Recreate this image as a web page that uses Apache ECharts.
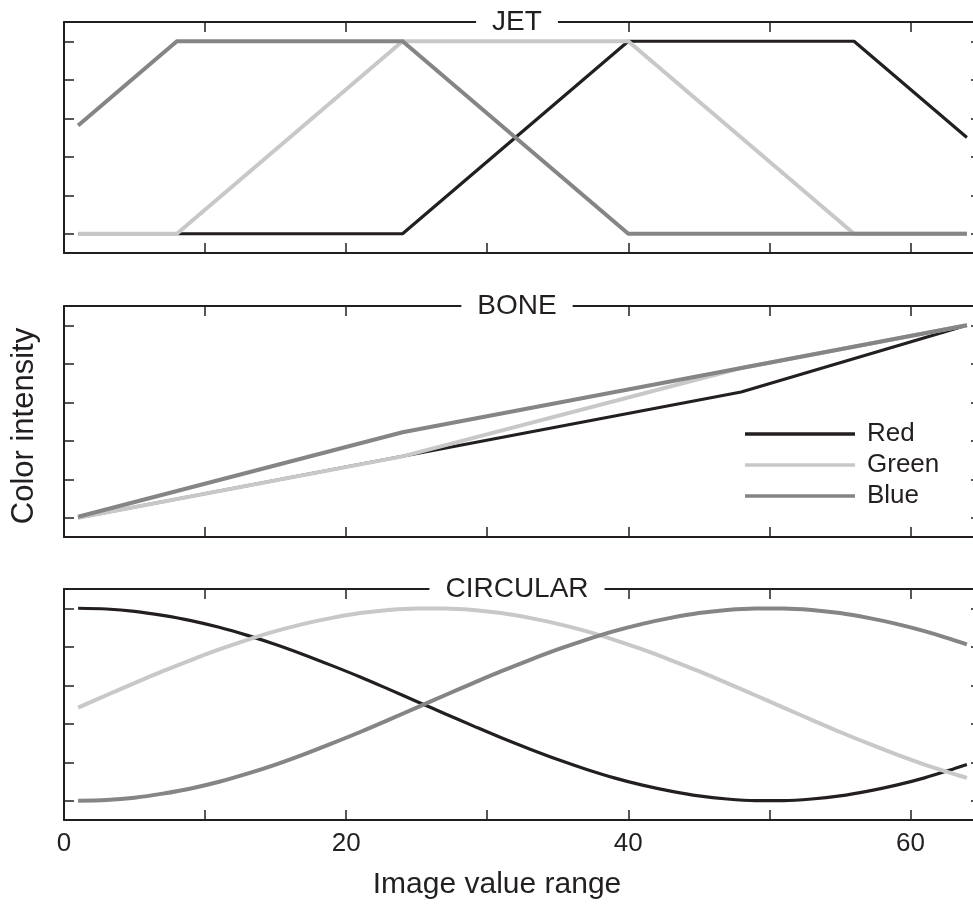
<!DOCTYPE html>
<html>
<head>
<meta charset="utf-8">
<script src="https://cdn.jsdelivr.net/npm/echarts@6/dist/echarts.min.js"></script>
<style>
html,body{margin:0;padding:0;background:#fff;}
#chart{width:973px;height:904px;}
</style>
</head>
<body>
<div id="chart"></div>
<script>
// ---- data ----
const panelTitles = ['JET', 'BONE', 'CIRCULAR'];
const seriesNames = ['Red', 'Green', 'Blue'];
const xTickValues = [0, 10, 20, 30, 40, 50, 60];
const xLabelValues = [0, 20, 40, 60];
const yTickValues = [0, 0.2, 0.4, 0.6, 0.8, 1];

const jetRed   = [[1, 0], [24, 0], [40, 1], [56, 1], [64, 0.5]];
const jetGreen = [[1, 0], [8, 0], [24, 1], [40, 1], [56, 0], [64, 0]];
const jetBlue  = [[1, 0.5625], [8, 1], [24, 1], [40, 0], [64, 0]];

const boneRed   = [[1, 0], [48, 0.653], [64, 1]];
const boneGreen = [[1, 0], [24, 0.319], [48, 0.778], [64, 1]];
const boneBlue  = [[1, 0.005], [24, 0.444], [64, 1]];

const circX     = [1, 3, 5, 7, 9, 11, 13, 15, 17, 19, 21, 23, 25, 27, 29, 31, 33, 35, 37, 39, 41, 43, 45, 47, 49, 51, 53, 55, 57, 59, 61, 63, 64];
const circRed   = [1.000, 0.996, 0.984, 0.963, 0.936, 0.901, 0.859, 0.812, 0.759, 0.702, 0.643, 0.580, 0.516, 0.452, 0.389, 0.327, 0.269, 0.214, 0.164, 0.119, 0.081, 0.050, 0.025, 0.009, 0.001, 0.001, 0.009, 0.025, 0.050, 0.081, 0.119, 0.164, 0.188];
const circGreen = [0.484, 0.548, 0.611, 0.673, 0.731, 0.786, 0.836, 0.881, 0.919, 0.950, 0.975, 0.991, 0.999, 0.999, 0.991, 0.975, 0.950, 0.919, 0.881, 0.836, 0.786, 0.731, 0.673, 0.611, 0.548, 0.484, 0.420, 0.357, 0.298, 0.241, 0.188, 0.141, 0.119];
const circBlue  = [0.000, 0.004, 0.016, 0.037, 0.064, 0.099, 0.141, 0.188, 0.241, 0.298, 0.357, 0.420, 0.484, 0.548, 0.611, 0.673, 0.731, 0.786, 0.836, 0.881, 0.919, 0.950, 0.975, 0.991, 0.999, 0.999, 0.991, 0.975, 0.950, 0.919, 0.881, 0.836, 0.812];

const xAxisTitle = 'Image value range';
const yAxisTitle = 'Color intensity';

// ---- styles ----
const FONT = '"Liberation Sans", Arial, sans-serif';
const INK = '#231f20';
const colors = ['#231f20', '#c8c8c8', '#858585'];
const widths = [3.2, 4, 4];
const gridTops = [22, 306, 589];
const gridH = 231;

const pair = (xs, ys) => xs.map((x, i) => [x, ys[i]]);
const panelData = [
  [jetRed, jetGreen, jetBlue],
  [boneRed, boneGreen, boneBlue],
  [pair(circX, circRed), pair(circX, circGreen), pair(circX, circBlue)]
];

const grids = [], xAxes = [], yAxes = [], series = [], graphics = [];
for (let p = 0; p < 3; p++) {
  grids.push({left: 64, width: 917, top: gridTops[p], height: gridH, containLabel: false, outerBoundsMode: 'none'});
  ['bottom', 'top'].forEach(pos => {
    xAxes.push({
      gridIndex: p, type: 'value', position: pos, min: 0, max: 65,
      axisLine: {show: true, onZero: false, lineStyle: {color: INK, width: 2}},
      axisTick: {show: true, inside: true, length: 10, customValues: xTickValues, lineStyle: {color: INK, width: 1.5}},
      axisLabel: {show: p === 2 && pos === 'bottom', customValues: xLabelValues, margin: 11,
        fontFamily: FONT, fontSize: 26, color: INK},
      splitLine: {show: false}
    });
  });
  ['left', 'right'].forEach(pos => {
    yAxes.push({
      gridIndex: p, type: 'value', position: pos, min: -0.1, max: 1.1,
      axisLine: {show: true, onZero: false, lineStyle: {color: INK, width: 2}},
      axisTick: {show: true, inside: true, length: 10, customValues: yTickValues, lineStyle: {color: INK, width: 1.5}},
      axisLabel: {show: false},
      splitLine: {show: false}
    });
  });
  for (let s = 0; s < 3; s++) {
    series.push({
      type: 'line', name: seriesNames[s],
      xAxisIndex: p * 2, yAxisIndex: p * 2,
      data: panelData[p][s],
      smooth: p === 2 ? 0.3 : false,
      symbol: 'none', showSymbol: false,
      lineStyle: {color: colors[s], width: widths[s]},
      itemStyle: {color: colors[s]},
      z: 2 + s
    });
  }
  graphics.push({
    type: 'text', x: 517, y: gridTops[p], z: 100,
    style: {text: panelTitles[p], font: '28px ' + FONT, fill: INK, align: 'center', verticalAlign: 'middle',
      backgroundColor: '#fff', padding: [3, 16, 3, 16]}
  });
}
graphics.push({
  type: 'text', x: 497, y: 885, z: 100,
  style: {text: xAxisTitle, font: '30px ' + FONT, fill: INK, align: 'center', verticalAlign: 'middle'}
});
graphics.push({
  type: 'text', x: 24, y: 426, z: 100, rotation: Math.PI / 2,
  style: {text: yAxisTitle, font: '31px ' + FONT, fill: INK, align: 'center', verticalAlign: 'middle'}
});

const chart = echarts.init(document.getElementById('chart'), null, {renderer: 'canvas'});
chart.setOption({
  animation: false,
  backgroundColor: '#fff',
  grid: grids,
  xAxis: xAxes,
  yAxis: yAxes,
  legend: {
    data: seriesNames, orient: 'vertical', left: 745, top: 421, padding: 0,
    icon: 'rect', itemWidth: 110, itemHeight: 3.5, itemGap: 5, selectedMode: false,
    textStyle: {fontFamily: FONT, fontSize: 26, color: INK, lineHeight: 26, padding: [0, 0, 0, 7]}
  },
  series: series,
  graphic: graphics
});
</script>
</body>
</html>
